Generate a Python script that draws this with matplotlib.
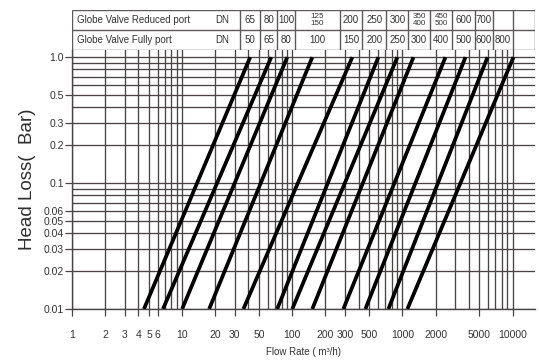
import numpy as np
import matplotlib
matplotlib.use("Agg")
from matplotlib import pyplot as plt
from matplotlib.ticker import LogLocator, FixedLocator, NullFormatter

plt.rcParams['font.family'] = ['Liberation Sans', 'DejaVu Sans']

# flow (m3/h) where each line hits 0.01 bar and 1.0 bar
q_at_001 = [4.5, 6.7, 10.0, 17.6, 36, 73, 100, 152, 291, 461, 746, 1110]
q_at_1 = [41.5, 64.4, 90, 152, 351, 605, 900, 1260, 2460, 3740, 5930, 10200]
dp_ends = [0.01, 1.0]

x_ticks = [1, 2, 3, 4, 5, 6, 10, 20, 30, 50, 100, 200, 300, 500, 1000, 2000, 5000, 10000]
y_ticks = [1.0, 0.5, 0.3, 0.2, 0.1, 0.06, 0.05, 0.04, 0.03, 0.02, 0.01]
y_labels = ["1.0", "0.5", "0.3", "0.2", "0.1", "0.06", "0.05", "0.04", "0.03", "0.02", "0.01"]

# table above the chart
col_edges = [1, 33.6, 51, 73, 106, 271, 432, 714, 1130, 1770, 2840, 4570, 6600, 10000, 16000]
reduced_dn = ["65", "80", "100", "125\n150", "200", "250", "300", "350\n400", "450\n500", "600", "700", "", ""]
fully_dn = ["50", "65", "80", "100", "150", "200", "250", "300", "400", "500", "600", "800", ""]
row_names = ["Globe Valve Reduced port", "Globe Valve Fully port"]

grid_col = "#4a4444"
text_col = "#333333"

fig = plt.figure(figsize=(5.39, 3.64), dpi=100)
ax = fig.add_axes([0.1336, 0.1511, 0.859, 0.7115])
tab = fig.add_axes([0.1336, 0.8626, 0.859, 0.1099], sharex=ax)

ax.set_xscale("log")
ax.set_yscale("log")
ax.set_xlim(1, 16000)
ax.set_ylim(0.01, 1.14)

for lo, hi in zip(q_at_001, q_at_1):
    ax.plot([lo, hi], dp_ends, color="black", lw=2.7, solid_capstyle="butt", zorder=3)

ax.xaxis.set_major_locator(FixedLocator(x_ticks))
ax.set_xticklabels([str(t) for t in x_ticks])
ax.yaxis.set_major_locator(FixedLocator(y_ticks))
ax.set_yticklabels(y_labels)
ax.xaxis.set_minor_locator(LogLocator(base=10, subs=np.arange(1, 10), numticks=20))
ax.yaxis.set_minor_locator(LogLocator(base=10, subs=np.arange(1, 10), numticks=20))
ax.xaxis.set_minor_formatter(NullFormatter())
ax.yaxis.set_minor_formatter(NullFormatter())
ax.grid(which="both", color=grid_col, lw=0.95)
ax.set_axisbelow(True)

ax.tick_params(axis="x", which="major", length=5, width=0.9, pad=10, labelsize=7.5,
               colors=grid_col, labelcolor=text_col)
ax.tick_params(axis="y", which="major", length=5, width=0.9, pad=1, labelsize=7.5,
               colors=grid_col, labelcolor=text_col)
ax.tick_params(which="minor", length=0)
for s in ["top", "right"]:
    ax.spines[s].set_visible(False)
for s in ["left", "bottom"]:
    ax.spines[s].set_color(grid_col)
    ax.spines[s].set_linewidth(1.0)

ax.set_ylabel("Head Loss(  Bar)", fontsize=13.5, color="#2e2e2e", labelpad=5)
ax.set_xlabel("Flow Rate ( m\u00b3/h)", fontsize=7, color=text_col, labelpad=5)

# table
tab.set_ylim(0, 2)
tab.axis("off")
tab.hlines([0, 1, 2], col_edges[0], col_edges[-1], color="#5e5858", lw=1.0)
tab.vlines(col_edges, 0, 2, color="#5e5858", lw=1.0)
for row, (name, vals) in enumerate(zip(row_names, [reduced_dn, fully_dn])):
    yc = 1.5 - row
    tab.text(1.1, yc, name, fontsize=7, color=text_col, va="center", ha="left")
    tab.text(23, yc, "DN", fontsize=7, color=text_col, va="center", ha="center")
    for i, v in enumerate(vals):
        xc = np.sqrt(col_edges[i + 1] * col_edges[i + 2])
        fs = 5.8 if "\n" in v else 7
        tab.text(xc, yc, v, fontsize=fs, color=text_col, va="center", ha="center",
                 linespacing=0.85)

fig.savefig("out.png", dpi=100)
